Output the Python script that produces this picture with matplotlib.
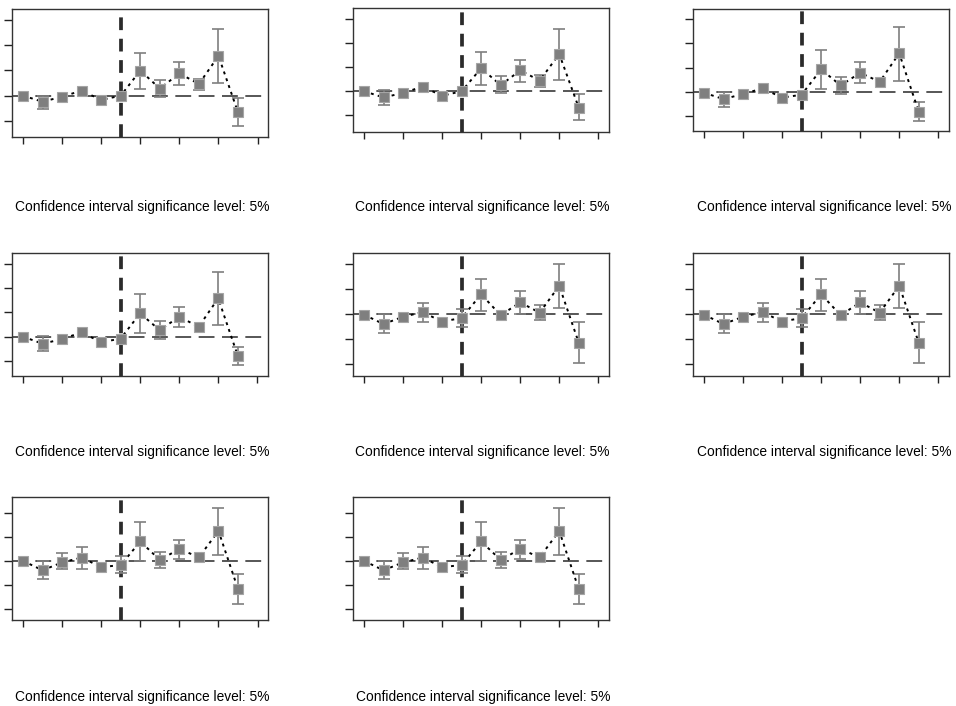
import numpy as np
import matplotlib
matplotlib.use("Agg")
import matplotlib.pyplot as plt

plt.rcParams['font.family'] = ['Liberation Sans', 'DejaVu Sans']

W, H = 956, 706

# relative period index (0..11); treatment boundary at index 5
periods = np.arange(12)
event_line = 5
xtick_pos = np.arange(0, 13, 2)

caption = "Confidence interval significance level: 5%"

# ---- panel data (estimates and CI bounds, in tick units) ----
est1 = [0.00, -0.24, -0.04, 0.20, -0.17, 0.00, 0.99, 0.28, 0.88, 0.46, 1.57, -0.66]
lo1  = [0.00, -0.54, -0.04, 0.20, -0.17, 0.00, 0.28, -0.04, 0.42, 0.22, 0.49, -1.20]
hi1  = [0.00, 0.00, -0.04, 0.20, -0.17, 0.00, 1.70, 0.62, 1.33, 0.64, 2.63, -0.10]

est2 = [0.00, -0.26, -0.07, 0.19, -0.19, 0.00, 0.95, 0.25, 0.86, 0.44, 1.54, -0.68]
lo2  = [0.00, -0.57, -0.07, 0.19, -0.19, 0.00, 0.25, -0.06, 0.40, 0.19, 0.47, -1.21]
hi2  = [0.00, 0.03, -0.07, 0.19, -0.19, 0.00, 1.64, 0.61, 1.30, 0.68, 2.59, -0.12]

est3 = [-0.03, -0.29, -0.08, 0.15, -0.23, -0.11, 0.93, 0.27, 0.79, 0.42, 1.59, -0.81]
lo3  = [-0.03, -0.60, -0.08, 0.15, -0.23, -0.11, 0.11, -0.10, 0.37, 0.42, 0.47, -1.19]
hi3  = [-0.03, 0.01, -0.08, 0.15, -0.23, -0.11, 1.73, 0.63, 1.22, 0.42, 2.66, -0.40]

est4 = [0.00, -0.29, -0.10, 0.18, -0.23, -0.08, 0.96, 0.27, 0.82, 0.41, 1.58, -0.78]
lo4  = [0.00, -0.58, -0.10, 0.18, -0.23, -0.08, 0.14, -0.08, 0.38, 0.41, 0.48, -1.17]
hi4  = [0.00, 0.03, -0.10, 0.18, -0.23, -0.08, 1.76, 0.65, 1.24, 0.41, 2.68, -0.41]

est5 = [-0.03, -0.40, -0.11, 0.07, -0.30, -0.16, 0.78, -0.05, 0.46, 0.05, 1.12, -1.14]
lo5  = [-0.03, -0.74, -0.11, -0.30, -0.30, -0.50, 0.12, -0.05, 0.00, -0.25, 0.22, -1.95]
hi5  = [-0.03, 0.00, -0.11, 0.45, -0.30, 0.18, 1.40, -0.05, 0.91, 0.36, 1.98, -0.30]

est6, lo6, hi6 = est5, lo5, hi5

est7 = [0.00, -0.39, -0.06, 0.14, -0.26, -0.17, 0.81, 0.04, 0.50, 0.15, 1.25, -1.17]
lo7  = [0.00, -0.75, -0.35, -0.35, -0.26, -0.51, 0.00, -0.28, 0.08, 0.15, 0.25, -1.79]
hi7  = [0.00, 0.00, 0.31, 0.60, -0.26, 0.22, 1.64, 0.36, 0.88, 0.15, 2.22, -0.54]

est8, lo8, hi8 = est7, lo7, hi7

panels = [
    (est1, lo1, hi1, (-1.62, 3.42), [-1, 0, 1, 2, 3]),
    (est2, lo2, hi2, (-1.70, 3.43), [-1, 0, 1, 2, 3]),
    (est3, lo3, hi3, (-1.60, 3.41), [-1, 0, 1, 2, 3]),
    (est4, lo4, hi4, (-1.62, 3.46), [-1, 0, 1, 2, 3]),
    (est5, lo5, hi5, (-2.46, 2.43), [-2, -1, 0, 1, 2]),
    (est6, lo6, hi6, (-2.46, 2.43), [-2, -1, 0, 1, 2]),
    (est7, lo7, hi7, (-2.46, 2.65), [-2, -1, 0, 1, 2]),
    (est8, lo8, hi8, (-2.46, 2.65), [-2, -1, 0, 1, 2]),
]

# axes boxes in pixels: left, top, right, bottom
boxes = [
    (12.3, 9.0, 268.3, 136.7),
    (353.3, 8.3, 609.0, 132.3),
    (693.3, 9.0, 949.0, 131.0),
    (12.3, 252.7, 268.0, 376.0),
    (353.3, 252.7, 609.0, 376.0),
    (693.3, 252.7, 949.0, 376.0),
    (12.3, 497.3, 268.3, 620.0),
    (353.3, 497.3, 609.0, 620.0),
]
caption_pos = [(15, 207), (355, 207), (697, 207),
               (15, 452), (355, 452), (697, 452),
               (15, 697), (356, 697)]

fig = plt.figure(figsize=(W / 100, H / 100), dpi=100)
fig.patch.set_facecolor('white')

grey = '#7f7f7f'
for (est, lo, hi, ylim, yt), (l, t, r, b), (cx, cy) in zip(panels, boxes, caption_pos):
    ax = fig.add_axes([l / W, 1 - b / H, (r - l) / W, (b - t) / H])
    est = np.array(est); lo = np.array(lo); hi = np.array(hi)
    ax.axhline(0, color='#3a3a3a', lw=1.2, linestyle=(0, (9.5, 4.5)), zorder=1)
    ax.axvline(event_line, color='#2b2b2b', lw=2.7, linestyle=(0, (3.4, 2.3)), zorder=2)
    m = (hi - lo) > 0.02
    ax.errorbar(periods[m], est[m], yerr=[est[m] - lo[m], hi[m] - est[m]], fmt='none',
                ecolor=grey, elinewidth=1.2, capsize=4.2, capthick=1.2, zorder=3)
    ax.plot(periods, est, linestyle=(0, (1.5, 2.2)), color='black', lw=1.4, zorder=4)
    ax.plot(periods, est, linestyle='none', marker='s', ms=7, mfc=grey,
            mec='#a5a5a5', mew=0.8, zorder=5)
    ax.set_xlim(-0.55, 12.55)
    ax.set_ylim(*ylim)
    ax.set_xticks(xtick_pos)
    ax.set_yticks(yt)
    ax.set_xticklabels([])
    ax.set_yticklabels([])
    ax.tick_params(axis='x', direction='out', length=5, width=1, color='#222222')
    ax.tick_params(axis='y', direction='out', length=6, width=1, color='#222222')
    for s in ax.spines.values():
        s.set_color('#333333')
        s.set_linewidth(1.0)
    fig.text(cx / W, 1 - cy / H, caption, fontsize=9.9, ha='left', va='center',
             color='black')

fig.savefig('out.png', dpi=100, facecolor='white')
